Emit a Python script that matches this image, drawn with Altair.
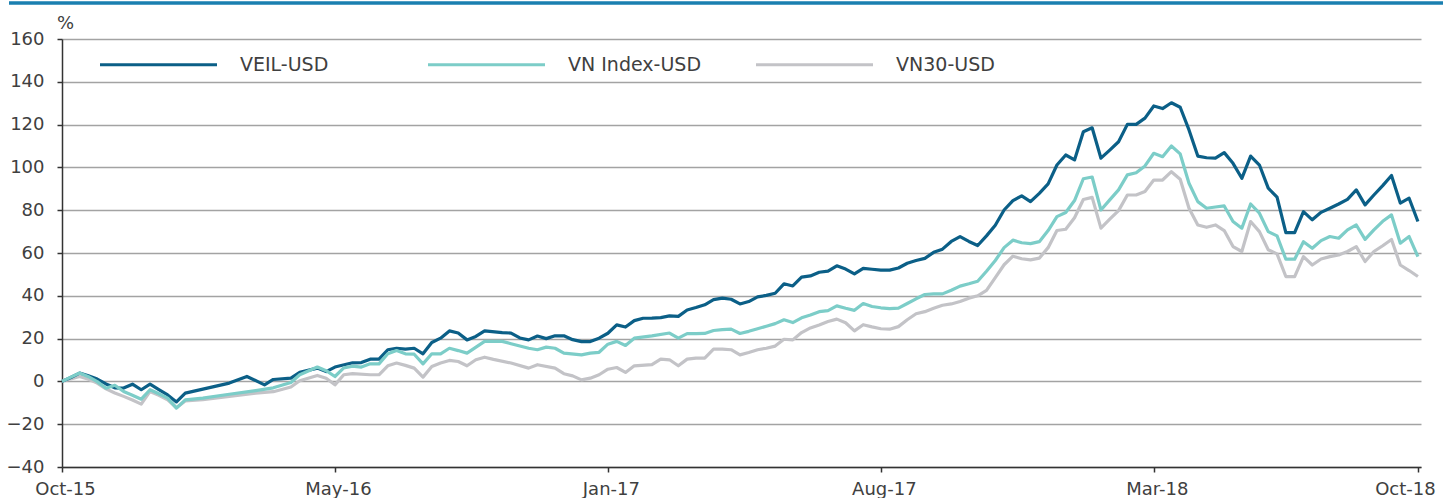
import altair as alt
import pandas as pd
import json

series_names = ["VEIL-USD", "VN Index-USD", "VN30-USD"]
series_colors = ["#0b5f87", "#7ccdc8", "#c3c3c7"]

tick_weeks = [0, 31, 62, 93, 124, 154]
tick_labels = ["Oct-15", "May-16", "Jan-17", "Aug-17", "Mar-18", "Oct-18"]
y_ticks = [-40, -20, 0, 20, 40, 60, 80, 100, 120, 140, 160]

veil_weeks = [0, 1, 2, 3, 4, 5, 6, 7, 8, 9, 10, 11, 12, 13, 14, 19, 21, 23, 24, 26,
              27, 29, 30, 31, 33, 34, 35, 36, 37, 38, 39, 40, 41, 42, 43, 44, 45, 46, 47, 48,
              50, 51, 52, 53, 54, 55, 56, 57, 58, 59, 60, 61, 62, 63, 64, 65, 66, 67, 68, 69,
              70, 71, 72, 73, 74, 75, 76, 77, 78, 79, 80, 81, 82, 83, 84, 85, 86, 87, 88, 89,
              90, 91, 92, 93, 94, 95, 96, 97, 98, 99, 100, 101, 102, 103, 104, 105, 106, 107, 108, 109,
              110, 111, 112, 113, 114, 115, 116, 117, 118, 119, 120, 121, 122, 123, 124, 125, 126, 127, 128, 129,
              130, 131, 132, 133, 134, 135, 136, 137, 138, 139, 140, 141, 142, 143, 144, 145, 146, 147, 148, 149,
              150, 151, 152, 153, 154]
veil = [0, 1.8, 3.9, 2.6, 1.1, -1.2, -3.0, -3.1, -1.3, -3.9, -1.3, -3.8, -6.3, -9.6, -5.5, -0.8, 2.3, -1.6, 0.9, 1.5,
        4.2, 6.2, 4.6, 6.7, 8.7, 8.8, 10.4, 10.4, 14.8, 15.5, 15.1, 15.5, 12.9, 18.2, 20.2, 23.6, 22.6, 19.4, 21.0, 23.6,
        22.8, 22.6, 20.3, 19.4, 21.2, 20.0, 21.3, 21.3, 19.5, 18.6, 18.6, 20.2, 22.5, 26.4, 25.4, 28.4, 29.5, 29.6, 29.8, 30.6,
        30.4, 33.4, 34.5, 35.8, 38.2, 38.9, 38.4, 36.2, 37.3, 39.5, 40.2, 41.2, 45.6, 44.6, 48.7, 49.3, 51.0, 51.5, 54.0, 52.5,
        50.2, 52.8, 52.4, 52.0, 52.0, 53.0, 55.2, 56.5, 57.5, 60.3, 61.8, 65.4, 67.7, 65.4, 63.5, 68.0, 73.0, 80.1, 84.5, 86.7,
        84.0, 87.9, 92.3, 101.1, 105.8, 103.5, 116.7, 118.5, 104.3, 108.1, 112.0, 120.1, 120.1, 123.0, 128.7, 127.5, 130.2, 128.1, 117.5, 105.3,
        104.5, 104.3, 106.9, 101.9, 94.9, 105.3, 101.1, 90.3, 86.1, 69.5, 69.5, 79.3, 75.5, 79.0, 80.9, 82.9, 85.1, 89.5, 82.5, 87.1,
        91.5, 96.2, 83.3, 85.6, 74.7]

vni_weeks = [0, 1, 2, 3, 4, 5, 6, 7, 8, 9, 10, 11, 12, 13, 14, 16, 19, 22, 24, 26,
             27, 29, 30, 31, 32, 33, 34, 35, 36, 37, 38, 39, 40, 41, 42, 43, 44, 45, 46, 48,
             50, 51, 53, 54, 55, 56, 57, 59, 60, 61, 62, 63, 64, 65, 67, 69, 70, 71, 72, 73,
             74, 75, 76, 77, 78, 79, 80, 81, 82, 83, 84, 85, 86, 87, 88, 89, 90, 91, 92, 93,
             94, 95, 96, 97, 98, 99, 100, 101, 102, 103, 104, 105, 106, 107, 108, 109, 110, 111, 112, 113,
             114, 115, 116, 117, 118, 119, 120, 121, 122, 123, 124, 125, 126, 127, 128, 129, 130, 131, 132, 133,
             134, 135, 136, 137, 138, 139, 140, 141, 142, 143, 144, 145, 146, 147, 148, 149, 150, 151, 152, 153,
             154]
vni = [0, 2.0, 3.9, 2.2, -0.1, -3.2, -1.8, -4.7, -6.5, -8.3, -3.9, -5.8, -7.8, -12.5, -8.6, -7.8, -6.0, -4.3, -3.0, -0.5,
       3.1, 6.7, 5.0, 2.3, 6.3, 7.1, 6.7, 8.2, 8.2, 12.9, 14.4, 12.9, 12.7, 8.2, 12.9, 12.9, 15.5, 14.4, 13.2, 18.7,
       18.7, 17.6, 15.5, 14.8, 16.0, 15.5, 13.2, 12.4, 13.2, 13.6, 17.4, 18.7, 16.8, 20.2, 21.3, 22.6, 20.2, 22.3, 22.3, 22.4,
       23.8, 24.2, 24.4, 22.4, 23.4, 24.6, 25.8, 27.0, 28.8, 27.5, 29.7, 31.0, 32.6, 33.1, 35.3, 34.2, 33.2, 36.4, 35.0, 34.4,
       34.0, 34.2, 36.4, 38.6, 40.6, 40.9, 40.9, 42.6, 44.5, 45.6, 46.8, 51.5, 56.5, 62.5, 66.0, 64.8, 64.4, 65.3, 70.5, 77.0,
       78.9, 84.5, 94.7, 95.5, 80.1, 84.8, 89.5, 96.5, 97.5, 100.7, 106.6, 105.0, 110.0, 106.3, 92.6, 84.0, 80.9, 81.5, 82.0, 74.7,
       71.6, 82.9, 78.6, 70.0, 68.0, 57.1, 57.1, 65.3, 62.2, 65.8, 67.7, 66.9, 70.8, 73.1, 66.4, 70.8, 74.8, 77.8, 64.6, 67.7,
       58.3]

vn30_weeks = [0, 1, 2, 3, 4, 5, 6, 7, 8, 9, 10, 11, 12, 13, 14, 16, 19, 22, 24, 26,
              27, 29, 30, 31, 32, 33, 35, 36, 37, 38, 39, 40, 41, 42, 43, 44, 45, 46, 47, 48,
              49, 51, 53, 54, 56, 57, 58, 59, 60, 61, 62, 63, 64, 65, 67, 68, 69, 70, 71, 72,
              73, 74, 75, 76, 77, 78, 79, 80, 81, 82, 83, 84, 85, 86, 87, 88, 89, 90, 91, 92,
              93, 94, 95, 96, 97, 98, 99, 100, 101, 102, 103, 104, 105, 106, 107, 108, 109, 110, 111, 112,
              113, 114, 115, 116, 117, 118, 119, 120, 121, 122, 123, 124, 125, 126, 127, 128, 129, 130, 131, 132,
              133, 134, 135, 136, 137, 138, 139, 140, 141, 142, 143, 144, 145, 146, 147, 148, 149, 150, 151, 152,
              153, 154]
vn30 = [0, 1.2, 2.3, 1.0, -0.8, -3.5, -5.4, -7.0, -8.7, -10.6, -4.7, -6.5, -8.6, -12.3, -9.1, -8.5, -7.0, -5.5, -4.8, -2.6,
        0.3, 2.8, 1.5, -1.6, 3.1, 3.6, 3.1, 3.1, 7.3, 8.6, 7.5, 6.2, 2.0, 7.0, 8.6, 9.8, 9.3, 7.3, 10.1, 11.3,
        10.3, 8.6, 6.2, 7.8, 6.2, 3.6, 2.6, 0.7, 1.5, 3.1, 5.7, 6.5, 4.2, 7.3, 7.8, 10.4, 10.1, 7.3, 10.4, 10.9,
        10.9, 15.1, 15.1, 14.8, 12.4, 13.5, 14.8, 15.5, 16.5, 19.7, 19.4, 22.8, 25.0, 26.4, 28.0, 29.1, 27.4, 23.6, 26.5, 25.5,
        24.6, 24.4, 25.6, 28.8, 31.6, 32.6, 34.2, 35.6, 36.2, 37.3, 38.9, 40.0, 42.5, 48.5, 54.5, 58.5, 57.3, 56.8, 57.6, 62.5,
        70.5, 71.1, 76.5, 85.0, 86.0, 71.6, 75.8, 79.8, 87.1, 87.1, 88.7, 94.1, 94.1, 98.0, 94.5, 80.9, 73.1, 72.0, 73.1, 70.5,
        63.0, 60.7, 74.7, 70.0, 61.5, 59.6, 49.0, 49.0, 58.3, 54.4, 57.2, 58.3, 59.1, 60.7, 63.0, 56.0, 60.7, 63.4, 66.3, 54.4,
        51.8, 49.0]

frames = []
for name, wk, vals in [(series_names[0], veil_weeks, veil),
                       (series_names[1], vni_weeks, vni),
                       (series_names[2], vn30_weeks, vn30)]:
    frames.append(pd.DataFrame({"week": wk, "value": vals, "series": name}))
df = pd.concat(frames, ignore_index=True)

label_map = json.dumps({str(w): l for w, l in zip(tick_weeks, tick_labels)})

FONT = "DejaVu Sans"
TXT = "#404040"

color = alt.Color(
    "series:N",
    scale=alt.Scale(domain=series_names, range=series_colors),
    legend=alt.Legend(
        title=None, orient="none", direction="horizontal", legendX=36, legendY=-35,
        symbolType="stroke", symbolSize=13689, symbolStrokeWidth=3.2,
        labelFont=FONT, labelFontSize=19, labelColor=TXT, labelOffset=21,
        columns=3, gridAlign="all", columnPadding=47, labelLimit=300,
    ),
)

x = alt.X(
    "week:Q",
    scale=alt.Scale(domain=[0, 154.35], nice=False, zero=False),
    axis=alt.Axis(
        title=None, values=tick_weeks, grid=False, labelFlush=False,
        labelExpr=f"{label_map}[datum.value + '']",
        labelFont=FONT, labelFontSize=18, labelColor=TXT,
        labelPadding=8, tickSize=5, tickColor="#333333", tickWidth=1.5,
        domainColor="#333333", domainWidth=1.5,
        labelOffset={"condition": {"test": "datum.value == 154", "value": -13}, "value": 3},
    ),
)
y = alt.Y(
    "value:Q",
    scale=alt.Scale(domain=[-40, 160], nice=False),
    axis=alt.Axis(
        title="%", titleAngle=0, titleX=3, titleY=-11, titleAlign="center",
        titleBaseline="alphabetic", titleFont=FONT, titleFontSize=18,
        titleFontWeight="normal", titleColor=TXT,
        values=y_ticks, format="d", grid=True, gridColor="#a3a3a3", gridWidth=1.5,
        labelFont=FONT, labelFontSize=18, labelColor=TXT, labelPadding=13,
        tickSize=5, tickColor="#333333", tickWidth=1.5,
        domainColor="#333333", domainWidth=1.5,
    ),
)

base = alt.Chart(df).mark_line(strokeWidth=3.2, strokeJoin="round").encode(
    x=x, y=y, color=color, order="week:Q"
)

layers = [base.transform_filter(alt.datum.series == s) for s in [series_names[2], series_names[0], series_names[1]]]

top_bar = alt.Chart(pd.DataFrame({"a": [0]})).mark_rule(
    color="#1a7fb0", strokeWidth=3.5, clip=False
).encode(x=alt.value(-53), x2=alt.value(1390), y=alt.value(-36))

chart = alt.layer(top_bar, *layers).properties(
    width=1359, height=428,
    autosize=alt.AutoSizeParams(type="none"),
    padding={"left": 62, "top": 39, "right": 22, "bottom": 31},
    background="white",
).configure_view(stroke=None)

chart.save("out.html", embed_options={"renderer": "svg", "actions": False})
